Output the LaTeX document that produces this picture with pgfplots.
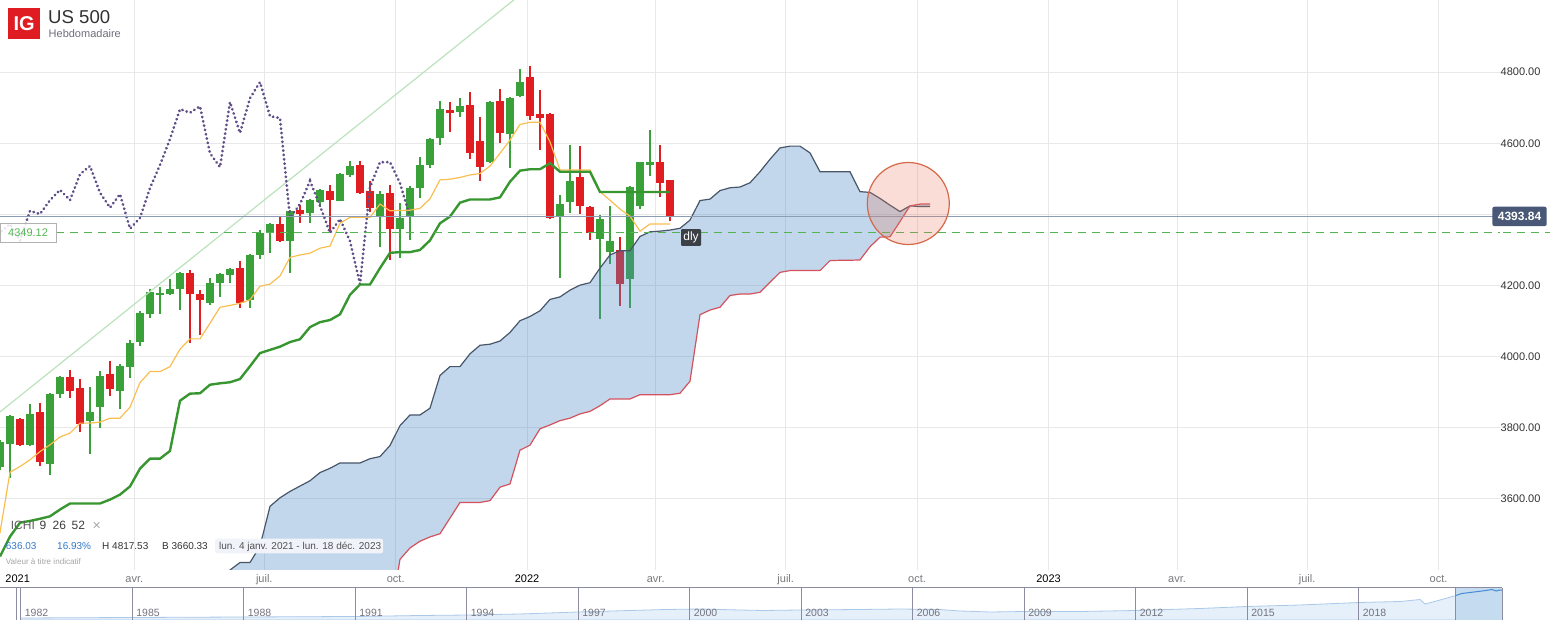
\documentclass[border=0pt]{standalone}
\usepackage{fontspec}
\setmainfont{Liberation Sans}
\newfontfamily\dejavu{DejaVu Sans}
\usepackage{pgfplots}
\pgfplotsset{compat=1.18}
\usepackage{pgfplotstable}
\newcommand\fs[1]{\fontsize{#1bp}{#1bp}\selectfont}

\definecolor{cgreen}{RGB}{58,160,58}
\definecolor{cred}{RGB}{224,30,34}
\definecolor{tenkan}{RGB}{250,190,80}
\definecolor{kijun}{RGB}{56,150,48}
\definecolor{chikou}{RGB}{96,78,136}
\definecolor{spanA}{RGB}{72,86,106}
\definecolor{spanB}{RGB}{212,82,94}
\definecolor{cloud}{RGB}{80,140,200}
\definecolor{gridc}{RGB}{232,232,232}
\definecolor{trend}{RGB}{188,226,188}
\definecolor{hline}{RGB}{140,156,178}
\definecolor{dashg}{RGB}{84,180,84}
\definecolor{boxblue}{RGB}{72,88,118}
\definecolor{dlybox}{RGB}{58,64,70}
\definecolor{circf}{RGB}{232,120,90}
\definecolor{circd}{RGB}{212,104,72}
\definecolor{igred}{RGB}{222,28,34}
\definecolor{txtdark}{RGB}{50,50,50}
\definecolor{txtgray}{RGB}{120,120,125}
\definecolor{infoblue}{RGB}{50,120,200}
\definecolor{navline}{RGB}{170,200,232}
\definecolor{navfill}{RGB}{230,240,250}
\definecolor{navframe}{RGB}{140,140,160}
\definecolor{selfill}{RGB}{197,219,240}
\definecolor{selline}{RGB}{70,140,215}
\definecolor{datebox}{RGB}{240,244,250}

% weekly candles, k = week index (k=1 : week of 4 Jan 2021)
\pgfplotstableread{
k o h l c
0 3691 3765 3680 3759
1 3755 3836 3660 3832
3 3752 3867 3749 3839
5 3697 3898 3666 3894
6 3894 3945 3885 3943
9 3820 3916 3725 3845
10 3857 3960 3798 3946
12 3902 3978 3854 3974
13 3972 4047 3941 4039
14 4042 4129 4031 4123
15 4121 4190 4110 4182
16 4173 4196 4121 4179
17 4177 4219 4172 4190
18 4191 4238 4130 4235
21 4152 4221 4146 4207
22 4208 4236 4169 4232
23 4231 4250 4208 4247
25 4158 4290 4138 4286
26 4287 4356 4276 4349
27 4349 4375 4291 4373
29 4326 4412 4235 4410
31 4405 4442 4375 4440
32 4435 4471 4420 4469
34 4439 4516 4437 4513
35 4512 4550 4506 4536
38 4394 4466 4307 4457
40 4360 4432 4278 4390
41 4394 4480 4329 4474
42 4475 4561 4447 4539
43 4539 4614 4531 4612
44 4615 4719 4595 4696
46 4688 4727 4674 4704
49 4547 4718 4545 4716
51 4626 4731 4530 4727
52 4733 4808 4731 4772
56 4396 4454 4221 4429
57 4435 4595 4404 4494
60 4331 4398 4106 4387
61 4294 4424 4261 4325
63 4219 4479 4137 4477
64 4424 4548 4415 4547
65 4539 4637 4508 4547
}\greencandles
\pgfplotstableread{
k o h l c
2 3825 3828 3748 3751
4 3845 3870 3693 3703
7 3943 3963 3885 3902
8 3912 3938 3789 3810
11 3952 3988 3888 3908
19 4235 4244 4037 4177
20 4176 4188 4062 4160
24 4250 4269 4138 4152
28 4373 4393 4322 4326
30 4412 4426 4375 4401
33 4466 4483 4350 4440
36 4539 4550 4457 4461
37 4466 4494 4408 4419
39 4460 4483 4273 4360
45 4693 4716 4631 4686
47 4707 4744 4556 4572
48 4606 4674 4494 4533
50 4719 4752 4601 4629
53 4786 4817 4665 4676
54 4682 4749 4581 4671
55 4682 4684 4388 4390
58 4505 4592 4401 4424
59 4421 4423 4328 4348
62 4300 4337 4143 4204
66 4547 4595 4449 4488
67 4497 4497 4381 4393
}\redcandles
\pgfplotstableread{
k v
-1 3450
0 3505
1 3675
2 3691
3 3710
4 3733
5 3752
6 3774
7 3785
8 3813
9 3813
10 3816
11 3827
12 3827
13 3858
14 3927
15 3958
16 3958
17 3972
18 4021
19 4050
20 4050
21 4094
22 4139
23 4144
24 4150
25 4160
26 4198
27 4204
28 4227
29 4279
30 4286
31 4291
32 4305
33 4311
34 4375
35 4392
36 4392
37 4392
38 4429
39 4410
40 4411
41 4412
42 4417
43 4444
44 4497
45 4499
46 4504
47 4511
48 4515
49 4536
50 4572
51 4609
52 4653
53 4659
54 4659
55 4604
56 4525
57 4525
58 4525
59 4525
60 4464
61 4440
62 4415
63 4395
64 4353
65 4373
66 4373
67 4373
}\tenkantab
\pgfplotstableread{
k v
0 3438
1 3494
2 3533
3 3538
4 3544
5 3551
6 3570
7 3587
8 3587
9 3587
10 3587
11 3598
12 3612
13 3635
14 3685
15 3713
16 3713
17 3735
18 3876
19 3896
20 3897
21 3921
22 3925
23 3928
24 3937
25 3973
26 4010
27 4019
28 4028
29 4041
30 4049
31 4083
32 4097
33 4103
34 4119
35 4174
36 4203
37 4203
38 4249
39 4292
40 4294
41 4294
42 4300
43 4327
44 4375
45 4394
46 4433
47 4442
48 4442
49 4442
50 4448
51 4492
52 4523
53 4527
54 4527
55 4544
56 4520
57 4520
58 4520
59 4520
60 4463
61 4463
62 4463
63 4463
64 4463
65 4463
66 4463
67 4463
}\kijuntab
\pgfplotstableread{
k v
-1 4286
0 4349
1 4373
2 4326
3 4410
4 4401
5 4440
6 4469
7 4440
8 4513
9 4536
10 4461
11 4419
12 4457
13 4360
14 4390
15 4474
16 4539
17 4612
18 4696
19 4686
20 4704
21 4572
22 4533
23 4716
24 4629
25 4727
26 4772
27 4676
28 4671
29 4390
30 4429
31 4494
32 4424
33 4348
34 4387
35 4325
36 4204
37 4477
38 4547
39 4547
40 4488
41 4393
}\chikoutab
\pgfplotstableread{
k v
22 3340
23 3400
24 3421
25 3421
26 3467
27 3579
28 3603
29 3621
30 3636
31 3651
32 3674
33 3686
34 3701
35 3701
36 3701
37 3713
38 3719
39 3750
40 3806
41 3836
42 3836
43 3855
44 3947
45 3972
46 3972
47 4008
48 4032
49 4035
50 4044
51 4068
52 4101
53 4113
54 4129
55 4161
56 4168
57 4187
58 4201
59 4208
60 4249
61 4286
62 4298
63 4298
64 4338
65 4351
66 4353
67 4356
68 4361
69 4384
70 4439
71 4443
72 4467
73 4475
74 4477
75 4489
76 4520
77 4555
78 4587
79 4592
80 4592
81 4573
82 4520
83 4520
84 4520
85 4520
86 4464
87 4462
88 4445
89 4426
90 4408
91 4424
92 4422
93 4422
}\spanAtab
\pgfplotstableread{
k v
39 3260
40 3430
41 3462
42 3481
43 3493
44 3502
45 3546
46 3590
47 3590
48 3590
49 3595
50 3633
51 3642
52 3737
53 3751
54 3797
55 3808
56 3820
57 3827
58 3839
59 3846
60 3862
61 3881
62 3881
63 3881
64 3893
65 3893
66 3893
67 3893
68 3897
69 3931
70 4118
71 4131
72 4139
73 4172
74 4176
75 4176
76 4181
77 4209
78 4237
79 4242
80 4242
81 4242
82 4242
83 4270
84 4271
85 4271
86 4272
87 4309
88 4336
89 4337
90 4380
91 4424
92 4429
93 4429
}\spanBtab
% cloud outline: span A forward, span B backward
\pgfplotstableread{
k v
22 3340
23 3400
24 3421
25 3421
26 3467
27 3579
28 3603
29 3621
30 3636
31 3651
32 3674
33 3686
34 3701
35 3701
36 3701
37 3713
38 3719
39 3750
40 3806
41 3836
42 3836
43 3855
44 3947
45 3972
46 3972
47 4008
48 4032
49 4035
50 4044
51 4068
52 4101
53 4113
54 4129
55 4161
56 4168
57 4187
58 4201
59 4208
60 4249
61 4286
62 4298
63 4298
64 4338
65 4351
66 4353
67 4356
68 4361
69 4384
70 4439
71 4443
72 4467
73 4475
74 4477
75 4489
76 4520
77 4555
78 4587
79 4592
80 4592
81 4573
82 4520
83 4520
84 4520
85 4520
86 4464
87 4462
88 4445
89 4426
90 4408
91 4424
92 4422
93 4422
93 4429
92 4429
91 4424
90 4380
89 4337
88 4336
87 4309
86 4272
85 4271
84 4271
83 4270
82 4242
81 4242
80 4242
79 4242
78 4237
77 4209
76 4181
75 4176
74 4176
73 4172
72 4139
71 4131
70 4118
69 3931
68 3897
67 3893
66 3893
65 3893
64 3893
63 3881
62 3881
61 3881
60 3862
59 3846
58 3839
57 3827
56 3820
55 3808
54 3797
53 3751
52 3737
51 3642
50 3633
49 3595
48 3590
47 3590
46 3590
45 3546
44 3502
43 3493
42 3481
41 3462
40 3430
39 3260
22 3260
}\cloudtab

\begin{document}
\begin{tikzpicture}
\useasboundingbox (0,0) rectangle (1550bp,620bp);

\begin{axis}[
  at={(0,50bp)}, anchor=south west,
  width=1500bp, height=570bp, scale only axis,
  xmin=0, xmax=150, ymin=3400, ymax=5003,
  axis line style={draw=none},
  major tick length=0pt,
  grid=major,
  major grid style={color=gridc, line width=0.8bp},
  ytick={3600,3800,4000,4200,4400,4600,4800},
  yticklabels={3600.00,3800.00,4000.00,4200.00,,4600.00,4800.00},
  yticklabel pos=right,
  yticklabel style={anchor=east, xshift=44bp, font=\fs{11}, text=txtdark},
  xtick={13.43,26.43,39.57,52.71,65.57,78.57,91.71,104.86,117.71,130.71,143.86},
  xticklabels={avr.,juil.,oct.,\textcolor{black}{2022},avr.,juil.,oct.,\textcolor{black}{2023},avr.,juil.,oct.},
  xticklabel style={anchor=base, yshift=-12.4bp, font=\fs{11}, text=txtgray},
  extra x ticks={1.77},
  extra x tick labels={\textcolor{black}{2021}},
  extra x tick style={grid=none},
  clip=true,
]
% candles: wicks and bodies drawn as error bars
\addplot[draw=none, mark=none, error bars/.cd, y dir=both, y explicit, error mark=none,
  error bar style={line width=1.3bp, draw=cgreen, solid}]
  table[x=k, y expr={(\thisrow{h}+\thisrow{l})/2}, y error expr={(\thisrow{h}-\thisrow{l})/2}]{\greencandles};
\addplot[draw=none, mark=none, error bars/.cd, y dir=both, y explicit, error mark=none,
  error bar style={line width=8bp, draw=cgreen, solid}]
  table[x=k, y expr={(\thisrow{o}+\thisrow{c})/2}, y error expr={abs(\thisrow{c}-\thisrow{o})/2}]{\greencandles};
\addplot[draw=none, mark=none, error bars/.cd, y dir=both, y explicit, error mark=none,
  error bar style={line width=1.3bp, draw=cred, solid}]
  table[x=k, y expr={(\thisrow{h}+\thisrow{l})/2}, y error expr={(\thisrow{h}-\thisrow{l})/2}]{\redcandles};
\addplot[draw=none, mark=none, error bars/.cd, y dir=both, y explicit, error mark=none,
  error bar style={line width=8bp, draw=cred, solid}]
  table[x=k, y expr={(\thisrow{o}+\thisrow{c})/2}, y error expr={abs(\thisrow{c}-\thisrow{o})/2}]{\redcandles};

% trend line
\addplot[trend, line width=1.2bp, mark=none] coordinates {(-1,3822) (52,5017)};

% cloud
\addplot[draw=none, fill=cloud, fill opacity=0.35, mark=none] table[x=k, y=v]{\cloudtab};
\addplot[spanA, line width=1.2bp, mark=none] table[x=k, y=v]{\spanAtab};
\addplot[spanB, line width=1.2bp, mark=none] table[x=k, y=v]{\spanBtab};

% ichimoku lines
\addplot[chikou, line width=2.8bp, line cap=round, dash pattern=on 0.3bp off 4.1bp, mark=none] table[x=k, y=v]{\chikoutab};
\addplot[tenkan, line width=1.2bp, mark=none] table[x=k, y=v]{\tenkantab};
\addplot[kijun, line width=2.4bp, mark=none] table[x=k, y=v]{\kijuntab};

% price lines
\addplot[hline, line width=1bp, mark=none] coordinates {(0,4393.84) (150,4393.84)};
\addplot[dashg, line width=1bp, dash pattern=on 8bp off 6bp, mark=none] coordinates {(5.57,4349.12) (150,4349.12)};

% highlight circle
\draw[circd, line width=1.2bp, fill=circf, fill opacity=0.25] (axis cs:90.83,4430.7) circle[radius=41bp];

% labels inside plot
\node[fill=dlybox, text=white, font=\fs{12}, inner sep=0pt, minimum width=20bp, minimum height=16.7bp, rounded corners=1bp] at (axis cs:69.1,4335) {dly};
\node[draw=gray!60, fill=white, fill opacity=0.85, text opacity=1, text=dashg, anchor=west, minimum height=18.4bp, minimum width=55.7bp, inner sep=0pt, font=\fs{11}] at (axis cs:0,4349.12) {4349.12};
\end{axis}

% right price box and line extension
\draw[dashg, line width=1bp, dash pattern=on 8bp off 6bp] (1503bp,387.5bp) -- (1550bp,387.5bp);
\node[fill=boxblue, text=white, font=\bfseries\fs{12}, rounded corners=2bp, minimum width=54.4bp, minimum height=19.3bp, inner sep=0pt] at (1519.5bp,403.6bp) {4393.84};

% title
\fill[igred] (8.3bp,580.7bp) rectangle (40bp,611.7bp);
\node[text=white, font=\bfseries\fs{20}, inner sep=0pt] at (24.2bp,596.2bp) {IG};
\node[anchor=base west, inner sep=0pt, text=txtdark, font=\fs{18.6}] at (48bp,596.7bp) {US 500};
\node[anchor=base west, inner sep=0pt, text={rgb,255:red,110;green,110;blue,125}, font=\fs{11}] at (48.5bp,582.3bp) {Hebdomadaire};

% indicator info
\node[anchor=base west, inner sep=0pt, text={rgb,255:red,95;green,95;blue,95}, font=\fs{12}] at (10.7bp,90bp) {ICHI};
\node[anchor=base west, inner sep=0pt, text={rgb,255:red,60;green,60;blue,60}, font=\fs{12}] at (39.3bp,90bp) {9};
\node[anchor=base west, inner sep=0pt, text={rgb,255:red,60;green,60;blue,60}, font=\fs{12}] at (52.5bp,90bp) {26};
\node[anchor=base west, inner sep=0pt, text={rgb,255:red,60;green,60;blue,60}, font=\fs{12}] at (71.5bp,90bp) {52};
\node[anchor=base west, inner sep=0pt, text={rgb,255:red,170;green,170;blue,170}, font=\dejavu\fs{11}] at (92bp,90bp) {✕};
\node[anchor=base west, inner sep=0pt, text=infoblue, font=\fs{10}] at (5.7bp,70.4bp) {636.03};
\node[anchor=base west, inner sep=0pt, text=infoblue, font=\fs{10}] at (57bp,70.4bp) {16.93\%};
\node[anchor=base west, inner sep=0pt, text=txtdark, font=\fs{10}] at (102bp,70.4bp) {H 4817.53};
\node[anchor=base west, inner sep=0pt, text=txtdark, font=\fs{10}] at (162bp,70.4bp) {B 3660.33};
\fill[datebox, rounded corners=2bp] (215bp,66.7bp) rectangle (383bp,81.3bp);
\node[anchor=base west, inner sep=0pt, text={rgb,255:red,80;green,80;blue,80}, font=\fs{10}] at (219bp,70.4bp) {lun. 4 janv. 2021 - lun. 18 déc. 2023};
\node[anchor=base west, inner sep=0pt, text={rgb,255:red,165;green,165;blue,165}, font=\fs{8.1}] at (5.7bp,55.1bp) {Valeur à titre indicatif};

% navigator
\begin{axis}[
  at={(0,0)}, anchor=south west,
  width=1502.3bp, height=32bp, scale only axis,
  xmin=0, xmax=1502.3, ymin=0, ymax=32,
  hide axis, clip=true,
]
\addplot[draw=navline, fill=navfill, line width=0.8bp, mark=none] coordinates {
 (20.7,2) (133,2.5) (243,3) (355,3.5) (420,4.5) (469,5) (520,6) (578,8) (630,9.5) (666,10.5) (700,11)
 (740,10) (763,9.5) (800,10) (860,10.5) (900,11) (940,10.5) (960,9) (990,8) (1026,8.5) (1080,8.5)
 (1136,9.5) (1200,11.5) (1247,13.5) (1300,15) (1359,17.5) (1400,18.5) (1420,20.5) (1425,16)
 (1440,20) (1455.7,24.5)} \closedcycle;
\addplot[draw=none, fill=selfill, mark=none] coordinates {(1455.7,0) (1455.7,32) (1502.3,32) (1502.3,0)};
\addplot[draw=selline, line width=1bp, mark=none] coordinates {
 (1455.7,24.5) (1462,26.5) (1470,27.5) (1478,28.5) (1486,29.5) (1492,30.5) (1496,29) (1500,30) (1502.3,30)};
\end{axis}
\draw[navframe, line width=1bp] (0,32bp) -- (1502.3bp,32bp);
\draw[navframe, line width=1bp] (16.7bp,0) -- (16.7bp,32bp);
\draw[navframe, line width=1bp] (1455.7bp,0) -- (1455.7bp,32bp);
\draw[navframe, line width=1bp] (1502.3bp,0) -- (1502.3bp,32bp);
\foreach \n/\yr in {0/1982,1/1985,2/1988,3/1991,4/1994,5/1997,6/2000,7/2003,8/2006,9/2009,10/2012,11/2015,12/2018}{
  \draw[navframe, line width=1bp] ({(20.7+111.5*\n)*1bp},0) -- ({(20.7+111.5*\n)*1bp},32bp);
  \node[anchor=base west, inner sep=0pt, text={rgb,255:red,115;green,115;blue,125}, font=\fs{10.5}] at ({(24.7+111.5*\n)*1bp},4bp) {\yr};
}
\end{tikzpicture}
\end{document}
